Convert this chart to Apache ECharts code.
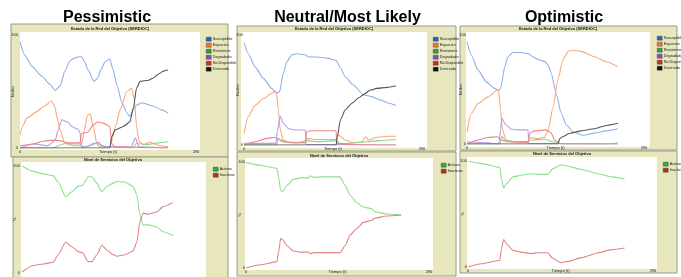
<!DOCTYPE html>
<html>
<head>
<meta charset="utf-8">
<script src="https://cdn.jsdelivr.net/npm/echarts@6/dist/echarts.min.js"></script>
<style>
html, body { margin: 0; padding: 0; background: #fff; }
#main { width: 681px; height: 277px; }
</style>
</head>
<body>
<div id="main"></div>
<script>
var scenarios = ['Pessimistic', 'Neutral/Most Likely', 'Optimistic'];
var stateNames = ['Susceptible', 'Expuesto', 'Resistente', 'Degradado', 'No Disponible', 'Destruido'];
var serviceNames = ['Activos', 'Inactivos'];
var timeTicks = [0, 290];
var valueTicks = [0, 100];

// Pessimistic - estado de la red [t, nodos]
var pesSus = [[0,94],[8,82],[20,72],[35,64],[50,56],[58,51],[66,55],[74,68],[82,77],[91,80],[101,81],[107,76],[112,69],[122,59],[128,62],[134,70],[140,76],[148,79],[153,70],[160,55],[168,40],[176,31],[181,28],[187,34],[192,38],[201,40],[220,37],[232,34],[244,31]];
var pesExp = [[0,11.5],[5,20],[11,26.5],[27,32],[40,37],[52,41.6],[57,37],[62,25],[66,16],[74,4],[90,2],[101,2],[106,15],[111,29],[116,30],[121,18],[127,3],[132,1],[148,1],[158,20],[165,34],[176,50],[184,53],[188,44],[192,20],[196,6],[203,3],[214,5],[231,2],[244,1]];
var pesRes = [[0,0],[55,0],[66,2.6],[74,4],[99,3.5],[104,1],[115,2],[126,4],[137,2],[148,1],[185,0],[192,4],[209,3],[228,4.5],[244,5.5]];
var pesDeg = [[0,2],[22,3.5],[46,2],[58,7],[63,16],[69,25],[79,23],[85,19],[96,16.5],[99,13],[101,1],[110,1],[120,4],[129,5],[137,1],[183,1],[190,9],[196,1],[244,0]];
var pesNoD = [[0,0],[22,3.5],[38,6],[52,7],[66,6.5],[79,4.5],[99,4.5],[101,13],[112,14],[120,20],[127,23],[137,22],[148,19],[151,4],[156,1],[244,0]];
var pesDes = [[0,0],[148,0],[151,10],[157,16],[170,19],[181,23],[187,36],[192,53],[198,59],[212,60],[220,62],[228,65.5],[236,68],[244,69]];

// Pessimistic - nivel de servicios [t, %]
var pesAct = [[0,100],[18,95],[34,92.6],[50,91],[58,85],[70,71],[80,76],[90,81],[97,82],[106,90],[112,90],[120,84],[128,76],[136,81],[146,84],[152,85.5],[165,85],[178,81],[184,73],[189,54],[194,45],[202,45],[216,43],[226,38.6],[242,35]];
var pesIna = [[0,1],[18,7],[34,8.4],[50,10],[58,17],[70,29],[80,24.6],[90,20],[97,19],[106,10.6],[112,10.6],[120,17],[128,26],[136,21.5],[146,17],[152,15.6],[165,17],[178,20.6],[184,29],[189,48],[194,56],[202,55],[216,57],[226,62],[242,66]];

// Neutral / Most Likely
var neuSus = [[0,93],[7,83],[18,71],[31.5,60.6],[45,51.5],[53,47],[58,48.5],[64,65],[70,76],[78,82],[86,83],[100,82],[105,80],[119,80],[135,79],[150,77],[157,70],[165,62],[178,54.5],[195,45.5],[200,45],[208,44],[222,41],[236,38],[247.5,36]];
var neuExp = [[0,10.6],[7,26],[18,36],[31.5,42],[45,47],[50.6,49],[53,47],[56,32],[59,14],[64,4.5],[75,2],[100,2],[102,6],[119,5],[150,5],[154,9],[165,4.5],[178,2],[192,3],[197.5,7.5],[203,4.5],[216.5,7],[233,8],[247.5,8]];
var neuRes = [[0,0],[53,0],[56,6],[61.5,3],[86,2],[101,4],[119,3],[150,4],[157,1],[173,1.5],[200,3],[222,4],[247.5,5]];
var neuDeg = [[0,1.5],[50,1.5],[52,0.5],[54,12],[59,26],[64,20],[72,15],[83,13.6],[100,13.6],[101,0.5],[247.5,0]];
var neuNoD = [[0,0],[18,3],[37,6],[50.6,7],[58,5],[67,3],[86,2],[100,2],[102,12],[108,13],[150,13],[151,1.5],[195,0],[247.5,0]];
var neuDes = [[0,0],[150,0],[152,7.5],[157,22.7],[165,32],[176,38],[187,43],[195,46],[206,50],[216.5,51.5],[233,52.4],[247.5,53.6]];
var neuAct = [[0,99.4],[22.6,97],[49,94],[51.6,86],[55,73],[58,72],[65,78],[75,83.6],[86,85],[99,85],[101.6,87],[107,85.5],[122.6,86],[149,86],[157,78],[165,68.6],[175,62],[186,57.5],[199,56],[204,53],[222.6,51],[246,50]];
var neuIna = [[0,0],[22.6,3],[49,6],[51.6,15],[55,28],[58,26.7],[65,21],[75,16],[86,15],[99,15],[101.6,13.5],[107,14.5],[122.6,14.5],[149,14.5],[157,21],[165,31],[175,37],[186,43],[199,45],[204,47],[222.6,49],[246,50]];

// Optimistic
var optSus = [[0,94],[7,81.6],[18,68],[31.7,57],[45,51],[52,49],[55,51],[62,71],[67,80],[75,84],[89,84],[100,83],[108,80],[119,77],[127,76],[133,72.5],[138,65],[146,46.5],[154.5,28],[163,17.4],[174,11],[190,8],[209,10],[228,12],[247,14]];
var optExp = [[0,11],[7,28],[18,37],[34,43],[50,49.5],[52,48],[55,31],[58,13],[64,3.7],[78,2],[100,2],[103,6],[116,5],[127,6],[133,13],[141,34],[149,59],[157,77],[165.5,85],[174,86],[187,85],[209,80],[228,75.5],[247,71]];
var optRes = [[0,0],[54,0],[57,7.3],[62,3.7],[75,2],[100,2],[105,3.7],[127,4.3],[141,2],[154.5,0],[230,0],[247,1.2]];
var optDeg = [[0,2],[34,1],[52,0],[55,13],[57,23.5],[64,17.4],[73,13.5],[83.5,13],[100,13],[101,0.6],[247,0]];
var optNoD = [[0,0],[18,3.7],[34,6],[50,6.7],[56,3.7],[67,2],[100,1.5],[103,10],[111,12],[130,13],[138,10],[143.6,3.7],[154.5,0],[247,0]];
var optDes = [[0,0],[149,0],[152,5],[157,6.7],[168,9.8],[187,12],[209,14],[228,17],[247,19]];
var optAct = [[0,100],[21,97.5],[50,94],[52.3,83],[56,74.5],[60,78.6],[70.5,85],[83.6,86.5],[99,88],[110,87.4],[125,87.4],[133,92.8],[146,96.5],[157,95],[178,92],[204,88],[225,85],[245.6,83]];
var optIna = [[0,0],[21,3],[50,6.3],[52.3,17],[56,26],[60,22],[70.5,15.7],[83.6,14],[99,12.6],[110,13.5],[125,13.5],[133,8],[146,4],[157,5.3],[178,8.8],[204,13.5],[225,16.4],[245.6,18]];

var stateLine = ['#8fafe8', '#f8a878', '#8fd48f', '#b99de2', '#ee8585', '#555555'];
var stateKey = ['#2f5fc4', '#f07a2a', '#35a035', '#8450c0', '#d42a2a', '#111111'];
var serviceLine = ['#8be28b', '#e08585'];
var serviceKey = ['#2fb02f', '#b52a2a'];

var chart = echarts.init(document.getElementById('main'), null, { renderer: 'canvas' });

// layout of the six NetLogo-style plot panels
var panels = [
  { grid: [20, 35, 176, 113], panel: [11, 24, 217, 133], plot: [20, 32, 180, 118], title: 'Estado de la Red del Objetivo (SERDIOC)', tx: 110, ty: 29, legend: [201, 32], yName: 'Nodos', yGap: 5, labMargin: 2, names: stateNames, data: [pesSus, pesExp, pesRes, pesDeg, pesNoD, pesDes], lc: stateLine, kc: stateKey, xlab: true },
  { grid: [22, 166, 181, 107], panel: [13, 157, 215, 124], plot: [21, 162, 185, 118], title: 'Nivel de Servicios del Objetivo', tx: 113, ty: 160, legend: [208, 162], yName: '%', yGap: 5, labMargin: 2, names: serviceNames, data: [pesAct, pesIna], lc: serviceLine, kc: serviceKey, xlab: false },
  { grid: [244, 35, 178, 110], panel: [237, 26, 219, 125], plot: [241, 32, 186, 116], title: 'Estado de la Red del Objetivo (SERDIOC)', tx: 334, ty: 29, legend: [428, 32], yName: 'Nodos', yGap: 4, labMargin: 1, names: stateNames, data: [neuSus, neuExp, neuRes, neuDeg, neuNoD, neuDes], lc: stateLine, kc: stateKey, xlab: true },
  { grid: [246, 162, 183, 106], panel: [237, 152, 219, 124], plot: [245, 158, 188, 112], title: 'Nivel de Servicios del Objetivo', tx: 339, ty: 155.5, legend: [436, 158], yName: '%', yGap: 4, labMargin: 1, names: serviceNames, data: [neuAct, neuIna], lc: serviceLine, kc: serviceKey, xlab: true },
  { grid: [467, 35, 177, 109], panel: [460, 26, 217, 124], plot: [466, 32, 184, 115], title: 'Estado de la Red del Objetivo (SERDIOC)', tx: 558, ty: 28.5, legend: [652, 31], yName: 'Nodos', yGap: 4, labMargin: 1, names: stateNames, data: [optSus, optExp, optRes, optDeg, optNoD, optDes], lc: stateLine, kc: stateKey, xlab: true },
  { grid: [468, 161, 185, 106], panel: [460, 151, 217, 122], plot: [467, 157, 190, 112], title: 'Nivel de Servicios del Objetivo', tx: 562, ty: 154, legend: [658, 157], yName: '%', yGap: 3, labMargin: 1, names: serviceNames, data: [optAct, optIna], lc: serviceLine, kc: serviceKey, xlab: true }
];

var headPos = [[107, 17.5], [347.5, 17.5], [564, 17.5]];

var grids = [], xAxes = [], yAxes = [], series = [], legends = [], graphics = [];
var smallText = { fontSize: 4, color: '#222', fontFamily: 'Arial' };

panels.forEach(function (p, gi) {
  grids.push({ left: p.grid[0], top: p.grid[1], width: p.grid[2], height: p.grid[3] });
  xAxes.push({
    type: 'value', gridIndex: gi, min: timeTicks[0], max: timeTicks[1], interval: timeTicks[1],
    name: p.xlab ? 'Tiempo (t)' : '', nameLocation: 'middle', nameGap: 2, nameMoveOverlap: false,
    nameTextStyle: smallText,
    axisLine: { show: false }, axisTick: { show: false }, splitLine: { show: false },
    axisLabel: Object.assign({ show: p.xlab, margin: 2 }, smallText)
  });
  yAxes.push({
    type: 'value', gridIndex: gi, min: valueTicks[0], max: valueTicks[1], interval: valueTicks[1],
    name: p.yName, nameLocation: 'middle', nameGap: p.yGap, nameMoveOverlap: false,
    nameTextStyle: smallText,
    axisLine: { show: false }, axisTick: { show: false }, splitLine: { show: false },
    axisLabel: Object.assign({ margin: p.labMargin }, smallText)
  });
  p.names.forEach(function (n, i) {
    series.push({
      type: 'line', name: n, xAxisIndex: gi, yAxisIndex: gi, data: p.data[i],
      symbol: 'none', smooth: 0.2, smoothMonotone: 'x',
      lineStyle: { width: 1.1, color: p.lc[i] },
      itemStyle: { color: p.kc[i] }
    });
  });
  legends.push({
    left: p.legend[0], top: p.legend[1], orient: 'vertical', icon: 'rect',
    itemWidth: 5, itemHeight: 4, itemGap: 1.6, selectedMode: false,
    itemStyle: { borderColor: '#333', borderWidth: 0.4 },
    textStyle: { fontSize: 3.8, lineHeight: 4, color: '#222', fontFamily: 'Arial', padding: [0, 0, 0, -3.5] },
    data: p.names
  });
  graphics.push({
    type: 'rect', z: 0, shape: { x: p.panel[0], y: p.panel[1], width: p.panel[2], height: p.panel[3] },
    style: { fill: '#e7e6bd', stroke: '#9a9a88', lineWidth: 1 }
  });
  graphics.push({
    type: 'rect', z: 0, shape: { x: p.plot[0], y: p.plot[1], width: p.plot[2], height: p.plot[3] },
    style: { fill: '#ffffff' }
  });
  graphics.push({
    type: 'text', z: 1, x: p.tx, y: p.ty,
    style: { text: p.title, font: 'bold 4px Arial', fill: '#111', align: 'center', verticalAlign: 'middle' }
  });
});

scenarios.forEach(function (s, i) {
  graphics.push({
    type: 'text', z: 1, x: headPos[i][0], y: headPos[i][1],
    style: { text: s, font: 'bold 16px "Liberation Sans", Arial', fill: '#000', align: 'center', verticalAlign: 'middle' }
  });
});

chart.setOption({
  backgroundColor: '#ffffff',
  animation: false,
  graphic: graphics,
  grid: grids,
  xAxis: xAxes,
  yAxis: yAxes,
  legend: legends,
  series: series
});
</script>
</body>
</html>
